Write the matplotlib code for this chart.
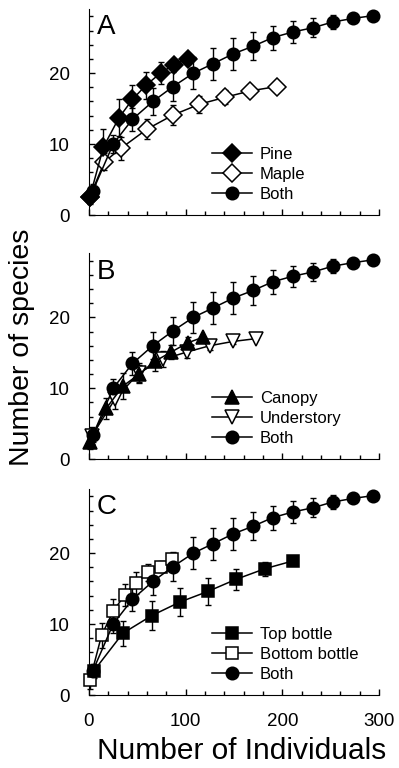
import matplotlib
matplotlib.use("Agg")
import matplotlib.pyplot as plt
from matplotlib.ticker import MultipleLocator

plt.rcParams['font.family'] = ['Liberation Sans', 'DejaVu Sans']

# rarefaction curve for all samples pooled (same in every panel)
both_x = [4, 25, 45, 66, 87, 108, 128, 149, 170, 190, 211, 232, 252, 273, 294]
both_y = [3.4, 10.0, 13.5, 16.0, 18.1, 20.0, 21.3, 22.7, 23.8, 25.0, 25.8, 26.4, 27.2, 27.7, 28.1]
both_e = [1.0, 1.3, 1.6, 1.9, 2.0, 2.2, 2.3, 2.3, 2.0, 1.7, 1.5, 1.3, 1.0, 0.3, 0.0]

# panel A
pine_x = [1, 15, 31, 45, 59, 74, 88, 102]
pine_y = [2.6, 9.6, 13.7, 16.3, 18.3, 20.0, 21.2, 22.0]
pine_e = [1.0, 2.5, 2.6, 2.0, 1.9, 1.5, 0.8, 0.0]
maple_x = [1, 16, 33, 60, 87, 114, 141, 167, 194]
maple_y = [2.6, 7.5, 9.4, 12.1, 14.1, 15.6, 16.6, 17.5, 18.1]
maple_e = [0.8, 1.2, 1.6, 1.4, 1.4, 1.2, 1.0, 0.5, 0.0]

# panel B
canopy_x = [1, 18, 35, 52, 68, 85, 102, 118]
canopy_y = [2.5, 7.2, 10.3, 12.0, 13.8, 15.1, 16.4, 17.2]
canopy_e = [1.0, 1.5, 1.8, 1.3, 1.3, 1.0, 0.8, 0.0]
under_x = [3, 27, 52, 77, 101, 125, 149, 173]
under_y = [3.3, 8.5, 12.2, 14.1, 15.1, 16.0, 16.6, 17.0]
under_e = [1.2, 1.4, 1.3, 1.1, 0.9, 0.6, 0.3, 0.0]

# panel C
top_x = [5, 35, 65, 94, 123, 152, 182, 211]
top_y = [3.4, 8.7, 11.2, 13.1, 14.6, 16.3, 17.8, 18.9]
top_e = [1.0, 1.8, 2.0, 2.0, 1.9, 1.5, 1.0, 0.0]
bot_x = [1, 13, 25, 37, 49, 61, 74, 86]
bot_y = [2.1, 8.4, 11.8, 14.1, 15.8, 17.3, 18.1, 19.1]
bot_e = [1.2, 1.8, 1.8, 1.6, 1.5, 1.2, 0.8, 0.4]

panels = [
    ("A", [(pine_x, pine_y, pine_e, "D", "black", 9, "Pine"),
           (maple_x, maple_y, maple_e, "D", "white", 9, "Maple")]),
    ("B", [(canopy_x, canopy_y, canopy_e, "^", "black", 9.5, "Canopy"),
           (under_x, under_y, under_e, "v", "white", 9.5, "Understory")]),
    ("C", [(top_x, top_y, top_e, "s", "black", 8.5, "Top bottle"),
           (bot_x, bot_y, bot_e, "s", "white", 8.5, "Bottom bottle")]),
]

fig = plt.figure(figsize=(3.99, 7.68), dpi=100)
bottoms = [0.720, 0.402, 0.095]

for (letter, series), b in zip(panels, bottoms):
    ax = fig.add_axes([0.223, b, 0.727, 0.268])
    allser = series + [(both_x, both_y, both_e, "o", "black", 9, "Both")]
    # open symbols go underneath the filled ones
    zs = [4, 3, 5]
    for (xs, ys, es, mk, fc, ms, lab), z in zip(allser, zs):
        eb = ax.errorbar(xs, ys, yerr=es, fmt="none", ecolor="black",
                         elinewidth=1, capsize=2.5, capthick=1, zorder=2)
        for art in eb.lines[1] + eb.lines[2]:
            art.set_clip_on(False)
        ax.plot(xs, ys, color="black", lw=1.1, marker=mk, mfc=fc, mec="black",
                mew=1.1, ms=ms, label=lab, zorder=z, clip_on=False)
    ax.set_xlim(0, 300)
    ax.set_ylim(0, 29)
    ax.spines["top"].set_visible(False)
    ax.spines["right"].set_visible(False)
    ax.xaxis.set_major_locator(MultipleLocator(100))
    ax.xaxis.set_minor_locator(MultipleLocator(20))
    ax.yaxis.set_major_locator(MultipleLocator(10))
    ax.yaxis.set_minor_locator(MultipleLocator(2))
    ax.tick_params(which="both", direction="in", labelsize=13.5, width=1)
    ax.tick_params(which="major", length=4)
    ax.tick_params(which="minor", length=3)
    ax.tick_params(axis="y", pad=14)
    if letter != "C":
        ax.tick_params(axis="x", labelbottom=False)
    else:
        ax.tick_params(axis="x", pad=13)
    ax.text(0.028, 0.975, letter, transform=ax.transAxes, fontsize=20,
            va="top", ha="left")
    ax.legend(loc="upper left", bbox_to_anchor=(0.4, 0.365), frameon=False,
              fontsize=12, handlelength=2.4, handletextpad=0.5,
              labelspacing=0.3, borderaxespad=0)

fig.text(0.055, 0.548, "Number of species", rotation=90, fontsize=20.5,
         ha="center", va="center")
fig.text(0.605, 0.022, "Number of Individuals", fontsize=21.5, ha="center",
         va="center")

fig.savefig("out.png", dpi=100)
